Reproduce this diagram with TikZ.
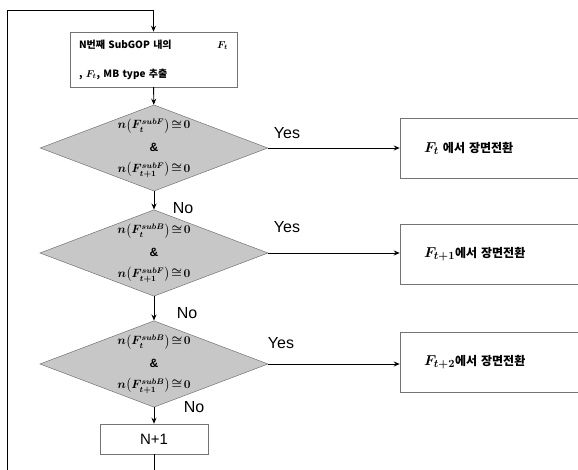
\documentclass[tikz,border=0pt]{standalone}
\usepackage{amsmath}
\usepackage{amssymb}
\usepackage{fontspec}
\setmainfont{Liberation Sans}
\newfontfamily\krfont{Noto Sans CJK KR}
\usetikzlibrary{shapes.geometric,arrows.meta}

\newcommand{\bigF}[1]{{\fontsize{15}{15}\selectfont$#1$}}

\tikzset{
  flow/.style={line width=0.9pt, -{Stealth[length=6pt,width=5pt]}},
  plain/.style={line width=0.9pt},
  procbox/.style={draw=black!55, line width=0.5pt, fill=white},
  decision/.style={diamond, draw=black!55, fill=black!22, line width=0.5pt,
    aspect=2.64, minimum width=222pt, minimum height=86pt, inner sep=0pt,
    align=center, font=\boldmath\fontsize{12}{12}\selectfont},
  answer/.style={font=\fontsize{16}{16}\selectfont},
  result/.style={procbox, minimum height=60pt, inner xsep=24pt,
    text width=134pt, align=left, font=\boldmath\krfont\bfseries\fontsize{12}{12}\selectfont},
}

\begin{document}
\begin{tikzpicture}[x=1pt,y=-1pt]
            \useasboundingbox (0,0) rectangle (578,470);
            % coordinates
            \coordinate (loopcorner) at (7,10);
            \coordinate (looplow) at (7,472);
            \coordinate (nextlow) at (154,472);
            % start box
            \node[procbox, minimum width=167pt, minimum height=55pt, inner xsep=9pt,
              text width=149pt, align=left, font=\boldmath\krfont\bfseries\fontsize{10}{29}\selectfont]
              (extract) at (153.5,59.5) {N번째 SubGOP 내의\hfill$F_t$\\, $F_t$, MB type 추출};
            % decisions
            \node[decision] (check1) at (154,148)
              {$n\bigl(F_t^{subF}\bigr)\!\cong\!0$\\[9pt]\textbf{\&}\\[9pt]$n\bigl(F_{t+1}^{subF}\bigr)\!\cong\!0$};
            \node[decision] (check2) at (154,253)
              {$n\bigl(F_t^{subB}\bigr)\!\cong\!0$\\[9pt]\textbf{\&}\\[9pt]$n\bigl(F_{t+1}^{subF}\bigr)\!\cong\!0$};
            \node[decision] (check3) at (154,364)
              {$n\bigl(F_t^{subB}\bigr)\!\cong\!0$\\[9pt]\textbf{\&}\\[9pt]$n\bigl(F_{t+1}^{subB}\bigr)\!\cong\!0$};
            % scene change boxes
            \node[result] (cut1) at (491,148) {\bigF{F_t} 에서 장면전환};
            \node[result] (cut2) at (491,254.5) {\bigF{F_{t+1}}에서 장면전환};
            \node[result] (cut3) at (491,362) {\bigF{F_{t+2}}에서 장면전환};
            % next subgop
            \node[procbox, minimum width=108pt, minimum height=30pt,
              font=\fontsize{15}{15}\selectfont] (next) at (154,439) {N+1};
            % flow lines
            \draw[flow] (looplow) -- (loopcorner) -| (extract.north);
            \draw[flow] (extract) -- (check1);
            \draw[flow] (check1) -- (check2);
            \draw[flow] (check2) -- (check3);
            \draw[flow] (check3) -- (next);
            \draw[plain] (next) -- (nextlow);
            \draw[flow] (check1.east) -- (cut1);
            \draw[flow] (check2.east) -- (cut2.west |- check2.east);
            \draw[flow] (check3.east) -- (cut3.west |- check3.east);
            % branch labels
            \node[answer] (yes1) at (287,133) {Yes};
            \node[answer] (yes2) at (287,227) {Yes};
            \node[answer] (yes3) at (281,343) {Yes};
            \node[answer] (no1) at (183,208) {No};
            \node[answer] (no2) at (187,313) {No};
            \node[answer] (no3) at (194,407) {No};
\end{tikzpicture}
\end{document}
